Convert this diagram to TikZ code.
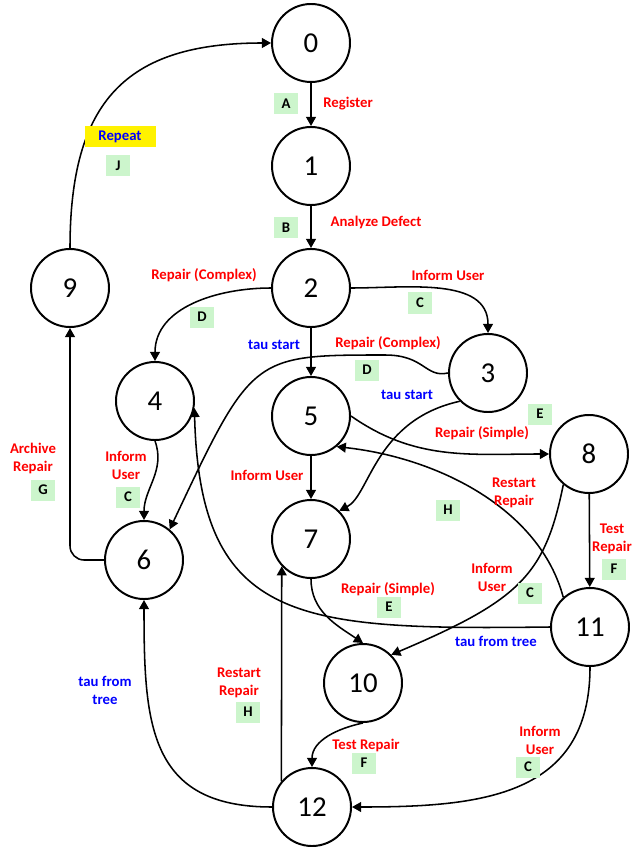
\documentclass[tikz,border=0pt]{standalone}
\usepackage{fontspec}
\setmainfont{Carlito}
\usepackage{xcolor}
\usepackage{tikz}
\usetikzlibrary{shapes.geometric, arrows.meta, positioning}

\definecolor{tagbg}{RGB}{204,245,204}

\begin{document}
\begin{tikzpicture}[
        x=0.25mm, y=0.25mm,
        state/.style={circle, draw, line width=1.4pt, minimum size=19.5mm, inner sep=0pt, font=\fontsize{20.5}{24}\selectfont},
        arrow/.style={-{Triangle[length=6.5pt,width=7pt]}, line width=1.1pt},
        act/.style={text=red, font=\fontsize{10.5}{12.8}\selectfont\bfseries, align=center, inner sep=0pt},
        tau/.style={act, text=blue},
        tag/.style={fill=tagbg, font=\fontsize{10.5}{12.8}\selectfont\bfseries, minimum width=6mm, minimum height=5.25mm, inner sep=0pt}
    ]
        \useasboundingbox (0,0) rectangle (639,-854);
        % states
        \node[state] (s0) at (311,-43) {0};
        \node[state] (s1) at (311,-166) {1};
        \node[state] (s2) at (311,-288) {2};
        \node[state] (s3) at (488,-373) {3};
        \node[state] (s4) at (155,-401) {4};
        \node[state] (s5) at (311,-416) {5};
        \node[state] (s6) at (144,-560) {6};
        \node[state] (s7) at (311,-539) {7};
        \node[state] (s8) at (589,-454) {8};
        \node[state] (s9) at (70,-288) {9};
        \node[state] (s10) at (363,-683) {10};
        \node[state] (s11) at (590,-627) {11};
        \node[state] (s12) at (312,-807) {12};

        % transitions
        \draw[arrow] (s0) -- (s1);
        \draw[arrow] (s1) -- (s2);
        \draw[arrow] (s2.east) to[out=0, in=90] (s3.north);
        \draw[arrow] (s2.west) to[out=180, in=90] (s4.north);
        \draw[arrow] (s2) -- (s5);
        \draw[arrow] (s3.west) .. controls (425,-378) and (425,-355) .. (385,-355) .. controls (252,-355) .. (s6.50);
        \draw[arrow] (s3.-135) .. controls (375,-420) and (370,-495) .. (s7.45);
        \draw[arrow] (s4.south) to[out=-70, in=90] (s6.north);
        \draw[arrow] (s5) -- (s7);
        \draw[arrow] (s5.east) to[out=-35, in=180] (s8.west);
        \draw[arrow] (s8) -- (s11);
        \draw[arrow] (s8.-130) .. controls (545,-575) and (520,-600) .. (s10.45);
        \draw[arrow] (s7.south) to[out=-90, in=146] (s10.north);
        \draw[arrow] (s10.south) to[out=192, in=90] (s12.north);
        \draw[arrow] (s12.140) -- (s7.-137);
        \draw[arrow] (s12.west) to[out=180, in=-90, looseness=1.3] (s6.south);
        \draw[arrow] (s11.south) to[out=-90, in=0, looseness=1.2] (s12.east);
        \draw[arrow] (s11.west) .. controls (300,-630) and (200,-625) .. (s4.-10);
        \draw[arrow] (s11.132) .. controls (540,-510) and (440,-458) .. (s5.-50);
        \draw[arrow, rounded corners=10] (s6.west) -| (s9.south);
        \draw[arrow] (s9.north) to[out=90, in=180, looseness=1.3] (s0.west);

        % labels
        \node[act] (lRegister) at (348,-104) {Register};
        \node[tag] (tA) at (286,-104) {A};
        \node[act] (lAnalyze) at (376,-222) {Analyze Defect};
        \node[tag] (tB) at (286,-228) {B};
        \node[act] (lComplexA) at (204,-275) {Repair (Complex)};
        \node[tag] (tDa) at (202,-317) {D};
        \node[act] (lInformA) at (448,-275) {Inform User};
        \node[tag] (tCa) at (420,-303) {C};
        \node[tau] (lTauA) at (274,-345) {tau start};
        \node[act] (lComplexB) at (388,-343) {Repair (Complex)};
        \node[tag] (tDb) at (367,-370) {D};
        \node[tau] (lTauB) at (407,-395) {tau start};
        \node[tag] (tEa) at (540,-414) {E};
        \node[act] (lSimpleA) at (482,-433) {Repair (Simple)};
        \node[act] (lInformB) at (267,-475) {Inform User};
        \node[act] (lInformC) at (126,-465) {Inform\\User};
        \node[tag] (tCb) at (128,-497) {C};
        \node[act] (lArchive) at (33,-458) {Archive\\Repair};
        \node[tag] (tG) at (43,-490) {G};
        \node[act] (lRestartA) at (514,-493) {Restart\\Repair};
        \node[tag] (tHa) at (448,-510) {H};
        \node[act] (lTestA) at (612,-539) {Test\\Repair};
        \node[tag] (tFa) at (614,-569) {F};
        \node[act] (lInformD) at (492,-577) {Inform\\User};
        \node[tag] (tCc) at (530,-593) {C};
        \node[act] (lSimpleB) at (388,-589) {Repair (Simple)};
        \node[tag] (tEb) at (389,-607) {E};
        \node[tau] (lTauC) at (496,-641) {tau from tree};
        \node[tau] (lTauD) at (105,-690) {tau from\\tree};
        \node[act] (lRestartB) at (239,-683) {Restart\\Repair};
        \node[tag] (tHb) at (248,-712) {H};
        \node[act] (lTestB) at (366,-745) {Test Repair};
        \node[tag] (tFb) at (364,-763) {F};
        \node[act] (lInformE) at (540,-740) {Inform\\User};
        \node[tag] (tCd) at (528,-767) {C};
        \node[tau, fill=yellow, minimum width=17.75mm, minimum height=5.25mm] (lRepeat) at (120,-137) {Repeat};
        \node[tag] (tJ) at (118,-166) {J};
    \end{tikzpicture}
\end{document}
